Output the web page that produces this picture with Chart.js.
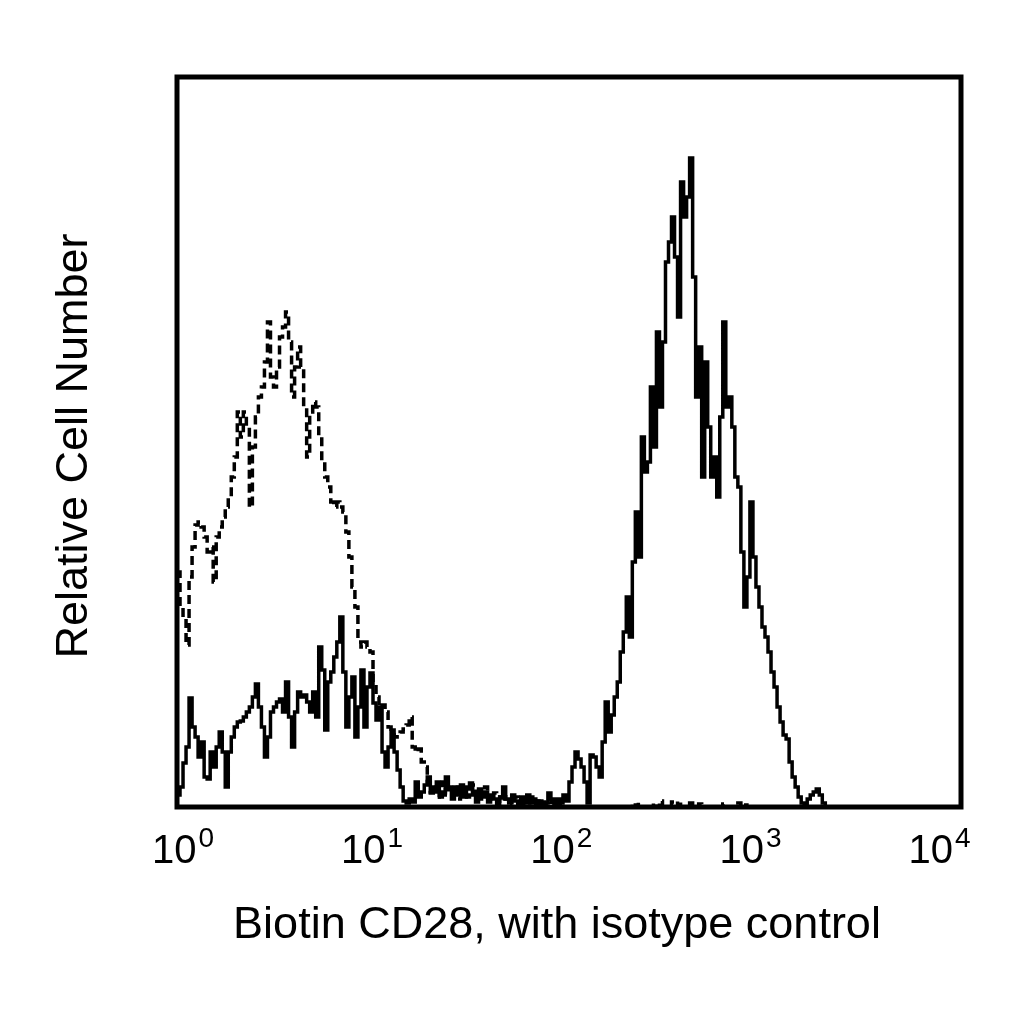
<!DOCTYPE html>
<html lang="en">
    <head>
        <meta charset="UTF-8" />
        <title>Biotin CD28 histogram</title>
        <script src="https://cdn.jsdelivr.net/npm/chart.js"></script>
        <style>
            html, body { margin: 0; padding: 0; background: #fff; }
            #histo { display: block; }
        </style>
    </head>
    <body>
        <canvas id="histo" width="1024" height="1024"></canvas>

        <script>
            // log channels, 65 per decade, starting at 10^0
            const CHANNELS_PER_DECADE = 65;

            // CD28 stained sample (solid line), relative counts per channel
            const cd28Counts = [
                12, 20, 44, 60, 109, 80, 70, 50, 65, 30, 28, 55, 40, 60, 75, 55,
                20, 55, 70, 80, 85, 86, 90, 95, 100, 110, 123, 100, 80, 50, 70, 95,
                100, 105, 108, 95, 125, 90, 60, 95, 115, 110, 112, 105, 95, 115, 90, 160,
                137, 77, 125, 135, 150, 165, 190, 135, 80, 110, 130, 70, 100, 137, 80, 120,
                134, 104, 87, 100, 55, 40, 60, 77, 55, 37, 20, 6, 4, 8, 5, 25,
                10, 15, 22, 30, 14, 20, 25, 10, 15, 30, 18, 8, 20, 12, 22, 10,
                18, 24, 12, 5, 18, 10, 15, 5, 12, 8, 3, 10, 20, 8, 4, 12,
                6, 3, 10, 5, 12, 4, 8, 3, 6, 2, 4, 14, 8, 3, 8, 4,
                12, 6, 25, 40, 55, 48, 40, 25, 4, 52, 50, 40, 30, 65, 105, 75,
                92, 110, 125, 155, 175, 210, 170, 245, 295, 250, 370, 335, 345, 420, 360, 475,
                400, 465, 545, 565, 590, 550, 490, 625, 590, 610, 649, 530, 410, 460, 330, 445,
                380, 330, 350, 310, 390, 485, 400, 410, 380, 330, 320, 255, 200, 230, 305, 250,
                220, 200, 180, 170, 155, 135, 120, 100, 85, 72, 68, 45, 30, 20, 10, 4,
                0, 8, 12, 15, 18, 12, 4, 0, 0, 0, 0, 0, 0, 0, 0, 0,
                0, 0, 0, 0, 0, 0, 0, 0, 0, 0, 0, 0, 0, 0, 0, 0,
                0, 0, 0, 0, 0, 0, 0, 0, 0, 0, 0, 0, 0, 0, 0, 0,
            ];

            // isotype control (dashed line)
            const isotypeCounts = [
                235, 200, 190, 162, 230, 260, 282, 285, 280, 270, 255, 260, 225, 270, 280, 290,
                300, 310, 330, 350, 395, 370, 395, 380, 300, 360, 390, 410, 420, 445, 485, 430,
                420, 440, 470, 480, 495, 465, 410, 440, 460, 440, 400, 350, 395, 405, 400, 370,
                345, 330, 320, 305, 300, 305, 300, 295, 275, 250, 220, 200, 165, 160, 165, 160,
                155, 125, 110, 100, 102, 95, 80, 75, 70, 72, 75, 78, 82, 90, 60, 55,
                58, 45, 40, 25, 15, 22, 10, 18, 25, 12, 20, 14, 22, 8, 15, 20,
                10, 12, 22, 14, 8, 16, 20, 10, 6, 14, 10, 4, 8, 12, 6, 3,
                10, 6, 3, 8, 4, 10, 3, 6, 2, 5, 3, 2, 6, 2, 4, 1,
                0, 0, 0, 0, 0, 0, 0, 0, 0, 0, 0, 0, 0, 0, 0, 0,
                0, 0, 0, 0, 0, 0, 3, 0, 5, 0, 0, 0, 0, 0, 4, 0,
                6, 0, 0, 0, 5, 0, 6, 0, 0, 0, 4, 0, 0, 3, 0, 0,
                0, 0, 0, 0, 0, 3, 0, 0, 0, 0, 4, 0, 2, 0, 0, 0,
                0, 0, 0, 0, 0, 0, 0, 0, 0, 0, 0, 0, 0, 0, 0, 0,
                0, 0, 0, 0, 0, 0, 0, 0, 0, 0, 0, 0, 0, 0, 0, 0,
                0, 0, 0, 0, 0, 0, 0, 0, 0, 0, 0, 0, 0, 0, 0, 0,
                0, 0, 0, 0, 0, 0, 0, 0, 0, 0, 0, 0, 0, 0, 0, 0,
            ];

            const tickExponents = [0, 1, 2, 3, 4];
            const xTitle = "Biotin CD28, with isotype control";
            const yTitle = "Relative Cell Number";

            // channel i spans 10^(i/65) .. 10^((i+1)/65)
            function toPoints(counts) {
                const pts = counts.map((c, i) => ({
                    x: Math.pow(10, i / CHANNELS_PER_DECADE),
                    y: c,
                }));
                pts.push({ x: Math.pow(10, counts.length / CHANNELS_PER_DECADE), y: 0 });
                return pts;
            }

            const FONT = '"Liberation Sans", Arial, sans-serif';

            // frame, decade labels with superscripts, axis titles
            const decorations = {
                id: "decorations",
                afterDraw(chart) {
                    const ctx = chart.ctx;
                    const area = chart.chartArea;
                    const xs = chart.scales.x;
                    ctx.save();

                    ctx.strokeStyle = "#000";
                    ctx.lineWidth = 5;
                    ctx.strokeRect(area.left, area.top, area.right - area.left, area.bottom - area.top);

                    ctx.fillStyle = "#000";
                    ctx.textBaseline = "alphabetic";
                    tickExponents.forEach((e) => {
                        const px = xs.getPixelForValue(Math.pow(10, e));
                        // labels sit slightly inside the decade marks, as in the source
                        const cx = area.left + 6 + (px - area.left) * 0.965;
                        ctx.font = "40px " + FONT;
                        const baseW = ctx.measureText("10").width;
                        ctx.font = "28px " + FONT;
                        const supW = ctx.measureText(String(e)).width;
                        const start = cx - (baseW + 2 + supW) / 2;
                        ctx.font = "40px " + FONT;
                        ctx.textAlign = "left";
                        ctx.fillText("10", start, area.bottom + 56);
                        ctx.font = "28px " + FONT;
                        ctx.fillText(String(e), start + baseW + 2, area.bottom + 40);
                    });

                    ctx.font = "45px " + FONT;
                    ctx.textAlign = "center";
                    ctx.fillText(xTitle, (area.left + area.right) / 2 - 12, area.bottom + 131);

                    ctx.translate(87, (area.top + area.bottom) / 2 + 4);
                    ctx.rotate(-Math.PI / 2);
                    ctx.fillText(yTitle, 0, 0);

                    ctx.restore();
                },
            };

            const chart = new Chart(document.getElementById("histo").getContext("2d"), {
                type: "line",
                data: {
                    datasets: [
                        {
                            label: "Biotin CD28",
                            data: toPoints(cd28Counts),
                            borderColor: "#000",
                            borderWidth: 3.5,
                            stepped: true,
                            pointRadius: 0,
                            fill: false,
                        },
                        {
                            label: "Isotype control",
                            data: toPoints(isotypeCounts),
                            borderColor: "#000",
                            borderWidth: 3.5,
                            borderDash: [9, 5],
                            stepped: true,
                            pointRadius: 0,
                            fill: false,
                        },
                    ],
                },
                options: {
                    responsive: false,
                    animation: false,
                    devicePixelRatio: 1,
                    parsing: false,
                    layout: { padding: { left: 177, right: 63, top: 77, bottom: 217 } },
                    scales: {
                        x: { type: "logarithmic", min: 1, max: 10000, display: false },
                        y: { type: "linear", min: 0, max: 730, display: false },
                    },
                    plugins: {
                        legend: { display: false },
                        tooltip: { enabled: false },
                    },
                },
                plugins: [decorations],
            });
        </script>
    </body>
</html>
